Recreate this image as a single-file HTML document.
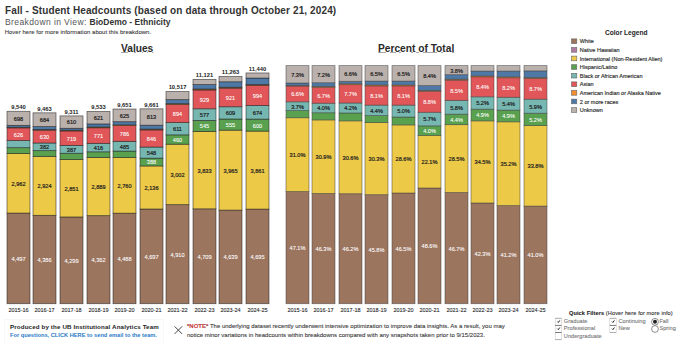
<!DOCTYPE html>
<html><head><meta charset="utf-8">
<style>
html,body{margin:0;padding:0;background:#fff;width:680px;height:345px;overflow:hidden;position:relative;font-family:"Liberation Sans",sans-serif;}
.a{position:absolute;white-space:nowrap;}
.bar{position:absolute;width:23.0px;box-sizing:border-box;}
.seg{position:absolute;left:0;right:0;box-shadow:inset 0 0 0 0.6px rgba(0,0,0,0.55);}
.lab{font-size:5.6px;text-anchor:middle;}
.tot{font-size:5.8px;text-anchor:middle;fill:#222;font-weight:bold;}
.yr{font-size:5.5px;text-anchor:middle;fill:#2a2a2a;stroke:#2a2a2a;stroke-width:0.1px;}
.sw{position:absolute;left:571.2px;width:5.8px;height:5.4px;box-sizing:border-box;border:0.5px solid #777;}
.lt{position:absolute;left:579.8px;height:9px;line-height:9px;font-size:5.5px;color:#2a2a2a;white-space:nowrap;-webkit-text-stroke:0.15px #2a2a2a;}
.cb{position:absolute;width:6.6px;height:7.2px;box-sizing:border-box;border:0.5px solid #c8c8c8;border-top:0.7px solid #555;border-bottom:0.7px solid #555;background:#fff;}
.rb{position:absolute;width:6.8px;height:6.8px;box-sizing:border-box;border:0.6px solid #777;border-radius:50%;background:#fff;}
.fl{position:absolute;font-size:5.6px;line-height:9px;color:#7a7a7a;white-space:nowrap;letter-spacing:0.05px;-webkit-text-stroke:0.12px #7a7a7a;}
</style></head><body>
<div class="a" style="left:5px;top:3.5px;font-size:10px;line-height:14px;font-weight:bold;color:#333"><span id="t1" style="letter-spacing:0.12px">Fall - Student Headcounts (based on data through October 21, 2024)</span></div>
<div class="a" style="left:5px;top:17px;font-size:8.5px;line-height:11px;color:#555"><span id="t2"><span style="letter-spacing:0.4px">Breakdown in View: </span><b style="color:#333;letter-spacing:0.02px">BioDemo - Ethnicity</b></span></div>
<div class="a" style="left:4.7px;top:28.5px;font-size:5.9px;line-height:7px;color:#3a3a3a;-webkit-text-stroke:0.1px #3a3a3a"><span id="t3" style="letter-spacing:0.07px">Hover here for more information about this breakdown.</span></div>
<div class="a" style="left:121px;top:41.5px;font-size:10.2px;line-height:13px;font-weight:bold;color:#2a2a2a;text-decoration:underline;text-decoration-color:#aaa;text-decoration-thickness:0.8px;text-underline-offset:0px"><span id="t4">Values</span></div>
<div class="a" style="left:378px;top:41.5px;font-size:10.2px;line-height:13px;font-weight:bold;color:#2a2a2a;text-decoration:underline;text-decoration-color:#aaa;text-decoration-thickness:0.8px;text-underline-offset:0px"><span id="t5">Percent of Total</span></div>
<svg class="a" style="left:0;top:0" width="680" height="345" viewBox="0 0 680 345"><rect x="7.00" y="213.07" width="23.0" height="90.63" fill="#9c755f" stroke="rgba(30,30,30,0.65)" stroke-width="0.8"/><rect x="7.00" y="153.42" width="23.0" height="59.65" fill="#edc948" stroke="rgba(30,30,30,0.65)" stroke-width="0.8"/><rect x="7.00" y="147.65" width="23.0" height="5.77" fill="#59a14f" stroke="rgba(30,30,30,0.65)" stroke-width="0.8"/><rect x="7.00" y="140.53" width="23.0" height="7.12" fill="#76b7b2" stroke="rgba(30,30,30,0.65)" stroke-width="0.8"/><rect x="7.00" y="127.83" width="23.0" height="12.70" fill="#e15759" stroke="rgba(30,30,30,0.65)" stroke-width="0.8"/><rect x="7.00" y="127.25" width="23.0" height="0.58" fill="#f28e2b" stroke="rgba(30,30,30,0.65)" stroke-width="0.8"/><rect x="7.00" y="125.32" width="23.0" height="1.92" fill="#4e79a7" stroke="rgba(30,30,30,0.65)" stroke-width="0.8"/><rect x="7.00" y="111.28" width="23.0" height="14.05" fill="#bab0ac" stroke="rgba(30,30,30,0.65)" stroke-width="0.8"/><text x="18.50" y="260.78" fill="#fff" stroke="#fff" stroke-width="0.08" class="lab">4,497</text><text x="18.50" y="185.64" fill="#1e1e1e" stroke="#1e1e1e" stroke-width="0.2" class="lab">2,962</text><text x="18.50" y="136.58" fill="#fff" stroke="#fff" stroke-width="0.08" class="lab">626</text><text x="18.50" y="120.70" fill="#1e1e1e" stroke="#1e1e1e" stroke-width="0.2" class="lab">698</text>
<text x="18.50" y="109.08" class="tot">9,540</text>
<text x="18.50" y="311.9" class="yr">2015-16</text>
<rect x="286.00" y="191.55" width="23.0" height="112.15" fill="#9c755f" stroke="rgba(60,60,60,0.6)" stroke-width="0.8"/><rect x="286.00" y="117.74" width="23.0" height="73.81" fill="#edc948" stroke="rgba(60,60,60,0.6)" stroke-width="0.8"/><rect x="286.00" y="110.60" width="23.0" height="7.14" fill="#59a14f" stroke="rgba(60,60,60,0.6)" stroke-width="0.8"/><rect x="286.00" y="101.79" width="23.0" height="8.81" fill="#76b7b2" stroke="rgba(60,60,60,0.6)" stroke-width="0.8"/><rect x="286.00" y="86.08" width="23.0" height="15.71" fill="#e15759" stroke="rgba(60,60,60,0.6)" stroke-width="0.8"/><rect x="286.00" y="85.36" width="23.0" height="0.71" fill="#f28e2b" stroke="rgba(60,60,60,0.6)" stroke-width="0.8"/><rect x="286.00" y="82.98" width="23.0" height="2.38" fill="#4e79a7" stroke="rgba(60,60,60,0.6)" stroke-width="0.8"/><rect x="286.00" y="65.60" width="23.0" height="17.38" fill="#bab0ac" stroke="rgba(60,60,60,0.6)" stroke-width="0.8"/><text x="297.50" y="250.03" fill="#fff" stroke="#fff" stroke-width="0.08" class="lab">47.1%</text><text x="297.50" y="157.05" fill="#1e1e1e" stroke="#1e1e1e" stroke-width="0.2" class="lab">31.0%</text><text x="297.50" y="108.60" fill="#1e1e1e" stroke="#1e1e1e" stroke-width="0.2" class="lab">3.7%</text><text x="297.50" y="96.33" fill="#fff" stroke="#fff" stroke-width="0.08" class="lab">6.6%</text><text x="297.50" y="76.69" fill="#1e1e1e" stroke="#1e1e1e" stroke-width="0.2" class="lab">7.3%</text>
<text x="297.50" y="311.9" class="yr">2015-16</text>
<rect x="33.00" y="215.33" width="23.0" height="88.37" fill="#9c755f" stroke="rgba(30,30,30,0.65)" stroke-width="0.8"/><rect x="33.00" y="156.35" width="23.0" height="58.98" fill="#edc948" stroke="rgba(30,30,30,0.65)" stroke-width="0.8"/><rect x="33.00" y="150.62" width="23.0" height="5.73" fill="#59a14f" stroke="rgba(30,30,30,0.65)" stroke-width="0.8"/><rect x="33.00" y="142.99" width="23.0" height="7.63" fill="#76b7b2" stroke="rgba(30,30,30,0.65)" stroke-width="0.8"/><rect x="33.00" y="130.20" width="23.0" height="12.79" fill="#e15759" stroke="rgba(30,30,30,0.65)" stroke-width="0.8"/><rect x="33.00" y="129.44" width="23.0" height="0.76" fill="#f28e2b" stroke="rgba(30,30,30,0.65)" stroke-width="0.8"/><rect x="33.00" y="126.57" width="23.0" height="2.86" fill="#4e79a7" stroke="rgba(30,30,30,0.65)" stroke-width="0.8"/><rect x="33.00" y="112.83" width="23.0" height="13.74" fill="#bab0ac" stroke="rgba(30,30,30,0.65)" stroke-width="0.8"/><text x="44.50" y="261.91" fill="#fff" stroke="#fff" stroke-width="0.08" class="lab">4,386</text><text x="44.50" y="188.24" fill="#1e1e1e" stroke="#1e1e1e" stroke-width="0.2" class="lab">2,924</text><text x="44.50" y="149.21" fill="#1e1e1e" stroke="#1e1e1e" stroke-width="0.2" class="lab">382</text><text x="44.50" y="138.99" fill="#fff" stroke="#fff" stroke-width="0.08" class="lab">630</text><text x="44.50" y="122.10" fill="#1e1e1e" stroke="#1e1e1e" stroke-width="0.2" class="lab">684</text>
<text x="44.50" y="110.63" class="tot">9,463</text>
<text x="44.50" y="311.9" class="yr">2016-17</text>
<rect x="312.00" y="193.46" width="23.0" height="110.24" fill="#9c755f" stroke="rgba(60,60,60,0.6)" stroke-width="0.8"/><rect x="312.00" y="119.89" width="23.0" height="73.57" fill="#edc948" stroke="rgba(60,60,60,0.6)" stroke-width="0.8"/><rect x="312.00" y="112.74" width="23.0" height="7.14" fill="#59a14f" stroke="rgba(60,60,60,0.6)" stroke-width="0.8"/><rect x="312.00" y="103.22" width="23.0" height="9.52" fill="#76b7b2" stroke="rgba(60,60,60,0.6)" stroke-width="0.8"/><rect x="312.00" y="87.27" width="23.0" height="15.95" fill="#e15759" stroke="rgba(60,60,60,0.6)" stroke-width="0.8"/><rect x="312.00" y="86.31" width="23.0" height="0.95" fill="#f28e2b" stroke="rgba(60,60,60,0.6)" stroke-width="0.8"/><rect x="312.00" y="82.74" width="23.0" height="3.57" fill="#4e79a7" stroke="rgba(60,60,60,0.6)" stroke-width="0.8"/><rect x="312.00" y="65.60" width="23.0" height="17.14" fill="#bab0ac" stroke="rgba(60,60,60,0.6)" stroke-width="0.8"/><text x="323.50" y="250.98" fill="#fff" stroke="#fff" stroke-width="0.08" class="lab">46.3%</text><text x="323.50" y="159.07" fill="#1e1e1e" stroke="#1e1e1e" stroke-width="0.2" class="lab">30.9%</text><text x="323.50" y="110.38" fill="#1e1e1e" stroke="#1e1e1e" stroke-width="0.2" class="lab">4.0%</text><text x="323.50" y="97.64" fill="#fff" stroke="#fff" stroke-width="0.08" class="lab">6.7%</text><text x="323.50" y="76.57" fill="#1e1e1e" stroke="#1e1e1e" stroke-width="0.2" class="lab">7.2%</text>
<text x="323.50" y="311.9" class="yr">2016-17</text>
<rect x="60.00" y="216.94" width="23.0" height="86.76" fill="#9c755f" stroke="rgba(30,30,30,0.65)" stroke-width="0.8"/><rect x="60.00" y="159.47" width="23.0" height="57.47" fill="#edc948" stroke="rgba(30,30,30,0.65)" stroke-width="0.8"/><rect x="60.00" y="153.27" width="23.0" height="6.20" fill="#59a14f" stroke="rgba(30,30,30,0.65)" stroke-width="0.8"/><rect x="60.00" y="145.38" width="23.0" height="7.89" fill="#76b7b2" stroke="rgba(30,30,30,0.65)" stroke-width="0.8"/><rect x="60.00" y="130.92" width="23.0" height="14.46" fill="#e15759" stroke="rgba(30,30,30,0.65)" stroke-width="0.8"/><rect x="60.00" y="130.17" width="23.0" height="0.75" fill="#f28e2b" stroke="rgba(30,30,30,0.65)" stroke-width="0.8"/><rect x="60.00" y="128.29" width="23.0" height="1.88" fill="#4e79a7" stroke="rgba(30,30,30,0.65)" stroke-width="0.8"/><rect x="60.00" y="115.90" width="23.0" height="12.39" fill="#bab0ac" stroke="rgba(30,30,30,0.65)" stroke-width="0.8"/><text x="71.50" y="262.72" fill="#fff" stroke="#fff" stroke-width="0.08" class="lab">4,299</text><text x="71.50" y="190.60" fill="#1e1e1e" stroke="#1e1e1e" stroke-width="0.2" class="lab">2,851</text><text x="71.50" y="151.73" fill="#1e1e1e" stroke="#1e1e1e" stroke-width="0.2" class="lab">387</text><text x="71.50" y="140.55" fill="#fff" stroke="#fff" stroke-width="0.08" class="lab">719</text><text x="71.50" y="124.49" fill="#1e1e1e" stroke="#1e1e1e" stroke-width="0.2" class="lab">610</text>
<text x="71.50" y="113.70" class="tot">9,311</text>
<text x="71.50" y="311.9" class="yr">2017-18</text>
<rect x="339.00" y="193.70" width="23.0" height="110.00" fill="#9c755f" stroke="rgba(60,60,60,0.6)" stroke-width="0.8"/><rect x="339.00" y="120.84" width="23.0" height="72.86" fill="#edc948" stroke="rgba(60,60,60,0.6)" stroke-width="0.8"/><rect x="339.00" y="112.98" width="23.0" height="7.86" fill="#59a14f" stroke="rgba(60,60,60,0.6)" stroke-width="0.8"/><rect x="339.00" y="102.98" width="23.0" height="10.00" fill="#76b7b2" stroke="rgba(60,60,60,0.6)" stroke-width="0.8"/><rect x="339.00" y="84.65" width="23.0" height="18.33" fill="#e15759" stroke="rgba(60,60,60,0.6)" stroke-width="0.8"/><rect x="339.00" y="83.70" width="23.0" height="0.95" fill="#f28e2b" stroke="rgba(60,60,60,0.6)" stroke-width="0.8"/><rect x="339.00" y="81.31" width="23.0" height="2.38" fill="#4e79a7" stroke="rgba(60,60,60,0.6)" stroke-width="0.8"/><rect x="339.00" y="65.60" width="23.0" height="15.71" fill="#bab0ac" stroke="rgba(60,60,60,0.6)" stroke-width="0.8"/><text x="350.50" y="251.10" fill="#fff" stroke="#fff" stroke-width="0.08" class="lab">46.2%</text><text x="350.50" y="159.67" fill="#1e1e1e" stroke="#1e1e1e" stroke-width="0.2" class="lab">30.6%</text><text x="350.50" y="110.38" fill="#1e1e1e" stroke="#1e1e1e" stroke-width="0.2" class="lab">4.2%</text><text x="350.50" y="96.21" fill="#fff" stroke="#fff" stroke-width="0.08" class="lab">7.7%</text><text x="350.50" y="75.86" fill="#1e1e1e" stroke="#1e1e1e" stroke-width="0.2" class="lab">6.6%</text>
<text x="350.50" y="311.9" class="yr">2017-18</text>
<rect x="87.00" y="215.64" width="23.0" height="88.06" fill="#9c755f" stroke="rgba(30,30,30,0.65)" stroke-width="0.8"/><rect x="87.00" y="157.37" width="23.0" height="58.26" fill="#edc948" stroke="rgba(30,30,30,0.65)" stroke-width="0.8"/><rect x="87.00" y="151.80" width="23.0" height="5.58" fill="#59a14f" stroke="rgba(30,30,30,0.65)" stroke-width="0.8"/><rect x="87.00" y="143.34" width="23.0" height="8.46" fill="#76b7b2" stroke="rgba(30,30,30,0.65)" stroke-width="0.8"/><rect x="87.00" y="127.76" width="23.0" height="15.57" fill="#e15759" stroke="rgba(30,30,30,0.65)" stroke-width="0.8"/><rect x="87.00" y="126.99" width="23.0" height="0.77" fill="#f28e2b" stroke="rgba(30,30,30,0.65)" stroke-width="0.8"/><rect x="87.00" y="123.92" width="23.0" height="3.08" fill="#4e79a7" stroke="rgba(30,30,30,0.65)" stroke-width="0.8"/><rect x="87.00" y="111.42" width="23.0" height="12.50" fill="#bab0ac" stroke="rgba(30,30,30,0.65)" stroke-width="0.8"/><text x="98.50" y="262.07" fill="#fff" stroke="#fff" stroke-width="0.08" class="lab">4,362</text><text x="98.50" y="188.90" fill="#1e1e1e" stroke="#1e1e1e" stroke-width="0.2" class="lab">2,889</text><text x="98.50" y="149.97" fill="#1e1e1e" stroke="#1e1e1e" stroke-width="0.2" class="lab">416</text><text x="98.50" y="137.95" fill="#fff" stroke="#fff" stroke-width="0.08" class="lab">771</text><text x="98.50" y="120.07" fill="#1e1e1e" stroke="#1e1e1e" stroke-width="0.2" class="lab">621</text>
<text x="98.50" y="109.22" class="tot">9,533</text>
<text x="98.50" y="311.9" class="yr">2018-19</text>
<rect x="365.00" y="194.65" width="23.0" height="109.05" fill="#9c755f" stroke="rgba(60,60,60,0.6)" stroke-width="0.8"/><rect x="365.00" y="122.51" width="23.0" height="72.14" fill="#edc948" stroke="rgba(60,60,60,0.6)" stroke-width="0.8"/><rect x="365.00" y="115.60" width="23.0" height="6.90" fill="#59a14f" stroke="rgba(60,60,60,0.6)" stroke-width="0.8"/><rect x="365.00" y="105.12" width="23.0" height="10.48" fill="#76b7b2" stroke="rgba(60,60,60,0.6)" stroke-width="0.8"/><rect x="365.00" y="85.84" width="23.0" height="19.29" fill="#e15759" stroke="rgba(60,60,60,0.6)" stroke-width="0.8"/><rect x="365.00" y="84.89" width="23.0" height="0.95" fill="#f28e2b" stroke="rgba(60,60,60,0.6)" stroke-width="0.8"/><rect x="365.00" y="81.08" width="23.0" height="3.81" fill="#4e79a7" stroke="rgba(60,60,60,0.6)" stroke-width="0.8"/><rect x="365.00" y="65.60" width="23.0" height="15.48" fill="#bab0ac" stroke="rgba(60,60,60,0.6)" stroke-width="0.8"/><text x="376.50" y="251.58" fill="#fff" stroke="#fff" stroke-width="0.08" class="lab">45.8%</text><text x="376.50" y="160.98" fill="#1e1e1e" stroke="#1e1e1e" stroke-width="0.2" class="lab">30.3%</text><text x="376.50" y="112.76" fill="#1e1e1e" stroke="#1e1e1e" stroke-width="0.2" class="lab">4.4%</text><text x="376.50" y="97.88" fill="#fff" stroke="#fff" stroke-width="0.08" class="lab">8.1%</text><text x="376.50" y="75.74" fill="#1e1e1e" stroke="#1e1e1e" stroke-width="0.2" class="lab">6.5%</text>
<text x="376.50" y="311.9" class="yr">2018-19</text>
<rect x="113.00" y="213.18" width="23.0" height="90.52" fill="#9c755f" stroke="rgba(30,30,30,0.65)" stroke-width="0.8"/><rect x="113.00" y="157.51" width="23.0" height="55.67" fill="#edc948" stroke="rgba(30,30,30,0.65)" stroke-width="0.8"/><rect x="113.00" y="151.09" width="23.0" height="6.42" fill="#59a14f" stroke="rgba(30,30,30,0.65)" stroke-width="0.8"/><rect x="113.00" y="141.35" width="23.0" height="9.73" fill="#76b7b2" stroke="rgba(30,30,30,0.65)" stroke-width="0.8"/><rect x="113.00" y="125.59" width="23.0" height="15.77" fill="#e15759" stroke="rgba(30,30,30,0.65)" stroke-width="0.8"/><rect x="113.00" y="124.81" width="23.0" height="0.78" fill="#f28e2b" stroke="rgba(30,30,30,0.65)" stroke-width="0.8"/><rect x="113.00" y="121.69" width="23.0" height="3.11" fill="#4e79a7" stroke="rgba(30,30,30,0.65)" stroke-width="0.8"/><rect x="113.00" y="109.04" width="23.0" height="12.65" fill="#bab0ac" stroke="rgba(30,30,30,0.65)" stroke-width="0.8"/><text x="124.50" y="260.84" fill="#fff" stroke="#fff" stroke-width="0.08" class="lab">4,488</text><text x="124.50" y="187.75" fill="#1e1e1e" stroke="#1e1e1e" stroke-width="0.2" class="lab">2,760</text><text x="124.50" y="148.62" fill="#1e1e1e" stroke="#1e1e1e" stroke-width="0.2" class="lab">485</text><text x="124.50" y="135.87" fill="#fff" stroke="#fff" stroke-width="0.08" class="lab">786</text><text x="124.50" y="117.77" fill="#1e1e1e" stroke="#1e1e1e" stroke-width="0.2" class="lab">625</text>
<text x="124.50" y="106.84" class="tot">9,651</text>
<text x="124.50" y="311.9" class="yr">2019-20</text>
<rect x="392.00" y="192.98" width="23.0" height="110.72" fill="#9c755f" stroke="rgba(60,60,60,0.6)" stroke-width="0.8"/><rect x="392.00" y="124.89" width="23.0" height="68.10" fill="#edc948" stroke="rgba(60,60,60,0.6)" stroke-width="0.8"/><rect x="392.00" y="117.03" width="23.0" height="7.86" fill="#59a14f" stroke="rgba(60,60,60,0.6)" stroke-width="0.8"/><rect x="392.00" y="105.12" width="23.0" height="11.91" fill="#76b7b2" stroke="rgba(60,60,60,0.6)" stroke-width="0.8"/><rect x="392.00" y="85.84" width="23.0" height="19.29" fill="#e15759" stroke="rgba(60,60,60,0.6)" stroke-width="0.8"/><rect x="392.00" y="84.89" width="23.0" height="0.95" fill="#f28e2b" stroke="rgba(60,60,60,0.6)" stroke-width="0.8"/><rect x="392.00" y="81.08" width="23.0" height="3.81" fill="#4e79a7" stroke="rgba(60,60,60,0.6)" stroke-width="0.8"/><rect x="392.00" y="65.60" width="23.0" height="15.48" fill="#bab0ac" stroke="rgba(60,60,60,0.6)" stroke-width="0.8"/><text x="403.50" y="250.74" fill="#fff" stroke="#fff" stroke-width="0.08" class="lab">46.5%</text><text x="403.50" y="161.34" fill="#1e1e1e" stroke="#1e1e1e" stroke-width="0.2" class="lab">28.6%</text><text x="403.50" y="113.48" fill="#1e1e1e" stroke="#1e1e1e" stroke-width="0.2" class="lab">5.0%</text><text x="403.50" y="97.88" fill="#fff" stroke="#fff" stroke-width="0.08" class="lab">8.1%</text><text x="403.50" y="75.74" fill="#1e1e1e" stroke="#1e1e1e" stroke-width="0.2" class="lab">6.5%</text>
<text x="403.50" y="311.9" class="yr">2019-20</text>
<rect x="140.00" y="209.00" width="23.0" height="94.70" fill="#9c755f" stroke="rgba(30,30,30,0.65)" stroke-width="0.8"/><rect x="140.00" y="165.93" width="23.0" height="43.06" fill="#edc948" stroke="rgba(30,30,30,0.65)" stroke-width="0.8"/><rect x="140.00" y="158.14" width="23.0" height="7.79" fill="#59a14f" stroke="rgba(30,30,30,0.65)" stroke-width="0.8"/><rect x="140.00" y="147.03" width="23.0" height="11.11" fill="#76b7b2" stroke="rgba(30,30,30,0.65)" stroke-width="0.8"/><rect x="140.00" y="129.88" width="23.0" height="17.15" fill="#e15759" stroke="rgba(30,30,30,0.65)" stroke-width="0.8"/><rect x="140.00" y="129.10" width="23.0" height="0.78" fill="#f28e2b" stroke="rgba(30,30,30,0.65)" stroke-width="0.8"/><rect x="140.00" y="125.21" width="23.0" height="3.90" fill="#4e79a7" stroke="rgba(30,30,30,0.65)" stroke-width="0.8"/><rect x="140.00" y="108.84" width="23.0" height="16.37" fill="#bab0ac" stroke="rgba(30,30,30,0.65)" stroke-width="0.8"/><text x="151.50" y="258.75" fill="#fff" stroke="#fff" stroke-width="0.08" class="lab">4,697</text><text x="151.50" y="189.86" fill="#1e1e1e" stroke="#1e1e1e" stroke-width="0.2" class="lab">2,136</text><text x="151.50" y="164.44" fill="#fff" stroke="#fff" stroke-width="0.08" class="lab">388</text><text x="151.50" y="154.98" fill="#1e1e1e" stroke="#1e1e1e" stroke-width="0.2" class="lab">548</text><text x="151.50" y="140.86" fill="#fff" stroke="#fff" stroke-width="0.08" class="lab">846</text><text x="151.50" y="119.42" fill="#1e1e1e" stroke="#1e1e1e" stroke-width="0.2" class="lab">813</text>
<text x="151.50" y="106.64" class="tot">9,661</text>
<text x="151.50" y="311.9" class="yr">2020-21</text>
<rect x="418.00" y="187.98" width="23.0" height="115.72" fill="#9c755f" stroke="rgba(60,60,60,0.6)" stroke-width="0.8"/><rect x="418.00" y="135.36" width="23.0" height="52.62" fill="#edc948" stroke="rgba(60,60,60,0.6)" stroke-width="0.8"/><rect x="418.00" y="125.84" width="23.0" height="9.52" fill="#59a14f" stroke="rgba(60,60,60,0.6)" stroke-width="0.8"/><rect x="418.00" y="112.27" width="23.0" height="13.57" fill="#76b7b2" stroke="rgba(60,60,60,0.6)" stroke-width="0.8"/><rect x="418.00" y="91.31" width="23.0" height="20.95" fill="#e15759" stroke="rgba(60,60,60,0.6)" stroke-width="0.8"/><rect x="418.00" y="90.36" width="23.0" height="0.95" fill="#f28e2b" stroke="rgba(60,60,60,0.6)" stroke-width="0.8"/><rect x="418.00" y="85.60" width="23.0" height="4.76" fill="#4e79a7" stroke="rgba(60,60,60,0.6)" stroke-width="0.8"/><rect x="418.00" y="65.60" width="23.0" height="20.00" fill="#bab0ac" stroke="rgba(60,60,60,0.6)" stroke-width="0.8"/><text x="429.50" y="248.24" fill="#fff" stroke="#fff" stroke-width="0.08" class="lab">48.6%</text><text x="429.50" y="164.07" fill="#1e1e1e" stroke="#1e1e1e" stroke-width="0.2" class="lab">22.1%</text><text x="429.50" y="133.00" fill="#fff" stroke="#fff" stroke-width="0.08" class="lab">4.0%</text><text x="429.50" y="121.45" fill="#1e1e1e" stroke="#1e1e1e" stroke-width="0.2" class="lab">5.7%</text><text x="429.50" y="104.19" fill="#fff" stroke="#fff" stroke-width="0.08" class="lab">8.8%</text><text x="429.50" y="78.00" fill="#1e1e1e" stroke="#1e1e1e" stroke-width="0.2" class="lab">8.4%</text>
<text x="429.50" y="311.9" class="yr">2020-21</text>
<rect x="166.00" y="204.64" width="23.0" height="99.06" fill="#9c755f" stroke="rgba(30,30,30,0.65)" stroke-width="0.8"/><rect x="166.00" y="144.18" width="23.0" height="60.46" fill="#edc948" stroke="rgba(30,30,30,0.65)" stroke-width="0.8"/><rect x="166.00" y="134.85" width="23.0" height="9.33" fill="#59a14f" stroke="rgba(30,30,30,0.65)" stroke-width="0.8"/><rect x="166.00" y="122.54" width="23.0" height="12.30" fill="#76b7b2" stroke="rgba(30,30,30,0.65)" stroke-width="0.8"/><rect x="166.00" y="104.51" width="23.0" height="18.03" fill="#e15759" stroke="rgba(30,30,30,0.65)" stroke-width="0.8"/><rect x="166.00" y="103.66" width="23.0" height="0.85" fill="#f28e2b" stroke="rgba(30,30,30,0.65)" stroke-width="0.8"/><rect x="166.00" y="99.63" width="23.0" height="4.03" fill="#4e79a7" stroke="rgba(30,30,30,0.65)" stroke-width="0.8"/><rect x="166.00" y="91.57" width="23.0" height="8.06" fill="#bab0ac" stroke="rgba(30,30,30,0.65)" stroke-width="0.8"/><text x="177.50" y="256.57" fill="#fff" stroke="#fff" stroke-width="0.08" class="lab">4,910</text><text x="177.50" y="176.81" fill="#1e1e1e" stroke="#1e1e1e" stroke-width="0.2" class="lab">3,002</text><text x="177.50" y="141.91" fill="#fff" stroke="#fff" stroke-width="0.08" class="lab">460</text><text x="177.50" y="131.09" fill="#1e1e1e" stroke="#1e1e1e" stroke-width="0.2" class="lab">611</text><text x="177.50" y="115.93" fill="#fff" stroke="#fff" stroke-width="0.08" class="lab">894</text>
<text x="177.50" y="89.37" class="tot">10,517</text>
<text x="177.50" y="311.9" class="yr">2021-22</text>
<rect x="445.00" y="192.51" width="23.0" height="111.19" fill="#9c755f" stroke="rgba(60,60,60,0.6)" stroke-width="0.8"/><rect x="445.00" y="124.65" width="23.0" height="67.86" fill="#edc948" stroke="rgba(60,60,60,0.6)" stroke-width="0.8"/><rect x="445.00" y="114.17" width="23.0" height="10.48" fill="#59a14f" stroke="rgba(60,60,60,0.6)" stroke-width="0.8"/><rect x="445.00" y="100.36" width="23.0" height="13.81" fill="#76b7b2" stroke="rgba(60,60,60,0.6)" stroke-width="0.8"/><rect x="445.00" y="80.12" width="23.0" height="20.24" fill="#e15759" stroke="rgba(60,60,60,0.6)" stroke-width="0.8"/><rect x="445.00" y="79.17" width="23.0" height="0.95" fill="#f28e2b" stroke="rgba(60,60,60,0.6)" stroke-width="0.8"/><rect x="445.00" y="74.65" width="23.0" height="4.52" fill="#4e79a7" stroke="rgba(60,60,60,0.6)" stroke-width="0.8"/><rect x="445.00" y="65.60" width="23.0" height="9.05" fill="#bab0ac" stroke="rgba(60,60,60,0.6)" stroke-width="0.8"/><text x="456.50" y="250.50" fill="#fff" stroke="#fff" stroke-width="0.08" class="lab">46.7%</text><text x="456.50" y="160.98" fill="#1e1e1e" stroke="#1e1e1e" stroke-width="0.2" class="lab">28.5%</text><text x="456.50" y="121.81" fill="#fff" stroke="#fff" stroke-width="0.08" class="lab">4.4%</text><text x="456.50" y="109.67" fill="#1e1e1e" stroke="#1e1e1e" stroke-width="0.2" class="lab">5.8%</text><text x="456.50" y="92.64" fill="#fff" stroke="#fff" stroke-width="0.08" class="lab">8.5%</text><text x="456.50" y="72.52" fill="#1e1e1e" stroke="#1e1e1e" stroke-width="0.2" class="lab">3.8%</text>
<text x="456.50" y="311.9" class="yr">2021-22</text>
<rect x="193.00" y="208.82" width="23.0" height="94.88" fill="#9c755f" stroke="rgba(30,30,30,0.65)" stroke-width="0.8"/><rect x="193.00" y="131.43" width="23.0" height="77.39" fill="#edc948" stroke="rgba(30,30,30,0.65)" stroke-width="0.8"/><rect x="193.00" y="120.44" width="23.0" height="10.99" fill="#59a14f" stroke="rgba(30,30,30,0.65)" stroke-width="0.8"/><rect x="193.00" y="108.77" width="23.0" height="11.66" fill="#76b7b2" stroke="rgba(30,30,30,0.65)" stroke-width="0.8"/><rect x="193.00" y="89.93" width="23.0" height="18.84" fill="#e15759" stroke="rgba(30,30,30,0.65)" stroke-width="0.8"/><rect x="193.00" y="89.03" width="23.0" height="0.90" fill="#f28e2b" stroke="rgba(30,30,30,0.65)" stroke-width="0.8"/><rect x="193.00" y="84.55" width="23.0" height="4.49" fill="#4e79a7" stroke="rgba(30,30,30,0.65)" stroke-width="0.8"/><rect x="193.00" y="79.39" width="23.0" height="5.16" fill="#bab0ac" stroke="rgba(30,30,30,0.65)" stroke-width="0.8"/><text x="204.50" y="258.66" fill="#fff" stroke="#fff" stroke-width="0.08" class="lab">4,709</text><text x="204.50" y="172.52" fill="#1e1e1e" stroke="#1e1e1e" stroke-width="0.2" class="lab">3,833</text><text x="204.50" y="128.33" fill="#fff" stroke="#fff" stroke-width="0.08" class="lab">545</text><text x="204.50" y="117.01" fill="#1e1e1e" stroke="#1e1e1e" stroke-width="0.2" class="lab">577</text><text x="204.50" y="101.75" fill="#fff" stroke="#fff" stroke-width="0.08" class="lab">929</text>
<text x="204.50" y="77.19" class="tot">11,121</text>
<text x="204.50" y="311.9" class="yr">2022-23</text>
<rect x="471.00" y="202.98" width="23.0" height="100.72" fill="#9c755f" stroke="rgba(60,60,60,0.6)" stroke-width="0.8"/><rect x="471.00" y="120.84" width="23.0" height="82.14" fill="#edc948" stroke="rgba(60,60,60,0.6)" stroke-width="0.8"/><rect x="471.00" y="109.17" width="23.0" height="11.67" fill="#59a14f" stroke="rgba(60,60,60,0.6)" stroke-width="0.8"/><rect x="471.00" y="96.79" width="23.0" height="12.38" fill="#76b7b2" stroke="rgba(60,60,60,0.6)" stroke-width="0.8"/><rect x="471.00" y="76.79" width="23.0" height="20.00" fill="#e15759" stroke="rgba(60,60,60,0.6)" stroke-width="0.8"/><rect x="471.00" y="75.84" width="23.0" height="0.95" fill="#f28e2b" stroke="rgba(60,60,60,0.6)" stroke-width="0.8"/><rect x="471.00" y="71.08" width="23.0" height="4.76" fill="#4e79a7" stroke="rgba(60,60,60,0.6)" stroke-width="0.8"/><rect x="471.00" y="65.60" width="23.0" height="5.48" fill="#bab0ac" stroke="rgba(60,60,60,0.6)" stroke-width="0.8"/><text x="482.50" y="255.74" fill="#fff" stroke="#fff" stroke-width="0.08" class="lab">42.3%</text><text x="482.50" y="164.31" fill="#1e1e1e" stroke="#1e1e1e" stroke-width="0.2" class="lab">34.5%</text><text x="482.50" y="117.41" fill="#fff" stroke="#fff" stroke-width="0.08" class="lab">4.9%</text><text x="482.50" y="105.38" fill="#1e1e1e" stroke="#1e1e1e" stroke-width="0.2" class="lab">5.2%</text><text x="482.50" y="89.19" fill="#fff" stroke="#fff" stroke-width="0.08" class="lab">8.4%</text>
<text x="482.50" y="311.9" class="yr">2022-23</text>
<rect x="219.00" y="210.10" width="23.0" height="93.60" fill="#9c755f" stroke="rgba(30,30,30,0.65)" stroke-width="0.8"/><rect x="219.00" y="130.14" width="23.0" height="79.97" fill="#edc948" stroke="rgba(30,30,30,0.65)" stroke-width="0.8"/><rect x="219.00" y="119.01" width="23.0" height="11.13" fill="#59a14f" stroke="rgba(30,30,30,0.65)" stroke-width="0.8"/><rect x="219.00" y="106.74" width="23.0" height="12.27" fill="#76b7b2" stroke="rgba(30,30,30,0.65)" stroke-width="0.8"/><rect x="219.00" y="88.11" width="23.0" height="18.63" fill="#e15759" stroke="rgba(30,30,30,0.65)" stroke-width="0.8"/><rect x="219.00" y="87.20" width="23.0" height="0.91" fill="#f28e2b" stroke="rgba(30,30,30,0.65)" stroke-width="0.8"/><rect x="219.00" y="81.75" width="23.0" height="5.45" fill="#4e79a7" stroke="rgba(30,30,30,0.65)" stroke-width="0.8"/><rect x="219.00" y="76.53" width="23.0" height="5.23" fill="#bab0ac" stroke="rgba(30,30,30,0.65)" stroke-width="0.8"/><text x="230.50" y="259.30" fill="#fff" stroke="#fff" stroke-width="0.08" class="lab">4,639</text><text x="230.50" y="172.52" fill="#1e1e1e" stroke="#1e1e1e" stroke-width="0.2" class="lab">3,965</text><text x="230.50" y="126.97" fill="#fff" stroke="#fff" stroke-width="0.08" class="lab">555</text><text x="230.50" y="115.27" fill="#1e1e1e" stroke="#1e1e1e" stroke-width="0.2" class="lab">609</text><text x="230.50" y="99.83" fill="#fff" stroke="#fff" stroke-width="0.08" class="lab">921</text>
<text x="230.50" y="74.33" class="tot">11,263</text>
<text x="230.50" y="311.9" class="yr">2023-24</text>
<rect x="497.00" y="205.60" width="23.0" height="98.10" fill="#9c755f" stroke="rgba(60,60,60,0.6)" stroke-width="0.8"/><rect x="497.00" y="121.79" width="23.0" height="83.81" fill="#edc948" stroke="rgba(60,60,60,0.6)" stroke-width="0.8"/><rect x="497.00" y="110.12" width="23.0" height="11.67" fill="#59a14f" stroke="rgba(60,60,60,0.6)" stroke-width="0.8"/><rect x="497.00" y="97.27" width="23.0" height="12.86" fill="#76b7b2" stroke="rgba(60,60,60,0.6)" stroke-width="0.8"/><rect x="497.00" y="77.74" width="23.0" height="19.52" fill="#e15759" stroke="rgba(60,60,60,0.6)" stroke-width="0.8"/><rect x="497.00" y="76.79" width="23.0" height="0.95" fill="#f28e2b" stroke="rgba(60,60,60,0.6)" stroke-width="0.8"/><rect x="497.00" y="71.08" width="23.0" height="5.71" fill="#4e79a7" stroke="rgba(60,60,60,0.6)" stroke-width="0.8"/><rect x="497.00" y="65.60" width="23.0" height="5.48" fill="#bab0ac" stroke="rgba(60,60,60,0.6)" stroke-width="0.8"/><text x="508.50" y="257.05" fill="#fff" stroke="#fff" stroke-width="0.08" class="lab">41.2%</text><text x="508.50" y="166.10" fill="#1e1e1e" stroke="#1e1e1e" stroke-width="0.2" class="lab">35.2%</text><text x="508.50" y="118.36" fill="#fff" stroke="#fff" stroke-width="0.08" class="lab">4.9%</text><text x="508.50" y="106.10" fill="#1e1e1e" stroke="#1e1e1e" stroke-width="0.2" class="lab">5.4%</text><text x="508.50" y="89.91" fill="#fff" stroke="#fff" stroke-width="0.08" class="lab">8.2%</text>
<text x="508.50" y="311.9" class="yr">2023-24</text>
<rect x="246.00" y="209.09" width="23.0" height="94.61" fill="#9c755f" stroke="rgba(30,30,30,0.65)" stroke-width="0.8"/><rect x="246.00" y="131.10" width="23.0" height="77.99" fill="#edc948" stroke="rgba(30,30,30,0.65)" stroke-width="0.8"/><rect x="246.00" y="119.10" width="23.0" height="12.00" fill="#59a14f" stroke="rgba(30,30,30,0.65)" stroke-width="0.8"/><rect x="246.00" y="105.49" width="23.0" height="13.61" fill="#76b7b2" stroke="rgba(30,30,30,0.65)" stroke-width="0.8"/><rect x="246.00" y="85.42" width="23.0" height="20.07" fill="#e15759" stroke="rgba(30,30,30,0.65)" stroke-width="0.8"/><rect x="246.00" y="84.49" width="23.0" height="0.92" fill="#f28e2b" stroke="rgba(30,30,30,0.65)" stroke-width="0.8"/><rect x="246.00" y="78.03" width="23.0" height="6.46" fill="#4e79a7" stroke="rgba(30,30,30,0.65)" stroke-width="0.8"/><rect x="246.00" y="72.96" width="23.0" height="5.08" fill="#bab0ac" stroke="rgba(30,30,30,0.65)" stroke-width="0.8"/><text x="257.50" y="258.80" fill="#fff" stroke="#fff" stroke-width="0.08" class="lab">4,695</text><text x="257.50" y="172.50" fill="#1e1e1e" stroke="#1e1e1e" stroke-width="0.2" class="lab">3,861</text><text x="257.50" y="127.50" fill="#fff" stroke="#fff" stroke-width="0.08" class="lab">600</text><text x="257.50" y="114.70" fill="#1e1e1e" stroke="#1e1e1e" stroke-width="0.2" class="lab">674</text><text x="257.50" y="97.85" fill="#fff" stroke="#fff" stroke-width="0.08" class="lab">994</text>
<text x="257.50" y="70.76" class="tot">11,440</text>
<text x="257.50" y="311.9" class="yr">2024-25</text>
<rect x="524.00" y="206.08" width="23.0" height="97.62" fill="#9c755f" stroke="rgba(60,60,60,0.6)" stroke-width="0.8"/><rect x="524.00" y="125.60" width="23.0" height="80.48" fill="#edc948" stroke="rgba(60,60,60,0.6)" stroke-width="0.8"/><rect x="524.00" y="113.22" width="23.0" height="12.38" fill="#59a14f" stroke="rgba(60,60,60,0.6)" stroke-width="0.8"/><rect x="524.00" y="99.17" width="23.0" height="14.05" fill="#76b7b2" stroke="rgba(60,60,60,0.6)" stroke-width="0.8"/><rect x="524.00" y="78.46" width="23.0" height="20.71" fill="#e15759" stroke="rgba(60,60,60,0.6)" stroke-width="0.8"/><rect x="524.00" y="77.51" width="23.0" height="0.95" fill="#f28e2b" stroke="rgba(60,60,60,0.6)" stroke-width="0.8"/><rect x="524.00" y="70.84" width="23.0" height="6.67" fill="#4e79a7" stroke="rgba(60,60,60,0.6)" stroke-width="0.8"/><rect x="524.00" y="65.60" width="23.0" height="5.24" fill="#bab0ac" stroke="rgba(60,60,60,0.6)" stroke-width="0.8"/><text x="535.50" y="257.29" fill="#fff" stroke="#fff" stroke-width="0.08" class="lab">41.0%</text><text x="535.50" y="168.24" fill="#1e1e1e" stroke="#1e1e1e" stroke-width="0.2" class="lab">33.8%</text><text x="535.50" y="121.81" fill="#fff" stroke="#fff" stroke-width="0.08" class="lab">5.2%</text><text x="535.50" y="108.60" fill="#1e1e1e" stroke="#1e1e1e" stroke-width="0.2" class="lab">5.9%</text><text x="535.50" y="91.21" fill="#fff" stroke="#fff" stroke-width="0.08" class="lab">8.7%</text>
<text x="535.50" y="311.9" class="yr">2024-25</text></svg>
<div class="a" style="left:605px;top:27.9px;font-size:6.6px;line-height:9px;font-weight:bold;color:#222"><span id="cl">Color Legend</span></div>
<div class="lt" style="top:37.40px"><span id="lg0">White</span></div>
<div class="lt" style="top:46.00px"><span id="lg1">Native Hawaiian</span></div>
<div class="lt" style="top:54.60px"><span id="lg2">International (Non-Resident Alien)</span></div>
<div class="lt" style="top:63.20px"><span id="lg3">Hispanic/Latino</span></div>
<div class="lt" style="top:71.80px"><span id="lg4">Black or African American</span></div>
<div class="lt" style="top:80.40px"><span id="lg5">Asian</span></div>
<div class="lt" style="top:89.00px"><span id="lg6">American Indian or Alaska Native</span></div>
<div class="lt" style="top:97.60px"><span id="lg7">2 or more races</span></div>
<div class="lt" style="top:106.20px"><span id="lg8">Unknown</span></div>
<svg class="a" style="left:0;top:0" width="680" height="345"><rect x="571.5" y="38.90" width="5.3" height="4.7" fill="#9c755f" stroke="#666" stroke-width="0.6"/><rect x="571.5" y="47.50" width="5.3" height="4.7" fill="#b07aa1" stroke="#666" stroke-width="0.6"/><rect x="571.5" y="56.10" width="5.3" height="4.7" fill="#edc948" stroke="#666" stroke-width="0.6"/><rect x="571.5" y="64.70" width="5.3" height="4.7" fill="#59a14f" stroke="#666" stroke-width="0.6"/><rect x="571.5" y="73.30" width="5.3" height="4.7" fill="#76b7b2" stroke="#666" stroke-width="0.6"/><rect x="571.5" y="81.90" width="5.3" height="4.7" fill="#e15759" stroke="#666" stroke-width="0.6"/><rect x="571.5" y="90.50" width="5.3" height="4.7" fill="#f28e2b" stroke="#666" stroke-width="0.6"/><rect x="571.5" y="99.10" width="5.3" height="4.7" fill="#4e79a7" stroke="#666" stroke-width="0.6"/><rect x="571.5" y="107.70" width="5.3" height="4.7" fill="#bab0ac" stroke="#666" stroke-width="0.6"/></svg>
<div class="a" style="left:4px;top:319px;width:160px;height:30px;border:0.5px solid #f8f8f8;box-sizing:border-box"></div>
<div class="a" style="left:10px;top:322.9px;font-size:6.2px;line-height:8px;font-weight:bold;color:#222"><span id="f1" style="letter-spacing:0.14px">Produced by the UB Institutional Analytics Team</span></div>
<div class="a" style="left:10px;top:331.1px;font-size:5.7px;line-height:8px;font-weight:bold;color:#2a7ac7"><span id="f2">For questions, CLICK HERE to send email to the team.</span></div>
<svg class="a" style="left:174px;top:326px" width="9" height="9" viewBox="0 0 9 9"><path d="M0.6 0.4L8.1 7.9M8.1 0.4L0.6 7.9" stroke="#444" stroke-width="1.0"/></svg>
<div class="a" style="left:187px;top:322.3px;font-size:6px;line-height:8.3px;color:#3a3a3a;-webkit-text-stroke:0.1px #3a3a3a"><span style="color:#e03a40;font-weight:bold">*NOTE*</span> The underlying dataset recently underwent intensive optimization to improve data insights. As a result, you may<br>notice minor variations in headcounts within breakdowns compared with any snapshots taken prior to 9/15/2023.</div>
<div class="a" style="left:569px;top:308.7px;font-size:5.6px;line-height:8px;color:#333;-webkit-text-stroke:0.12px #333"><span id="qf" style="letter-spacing:0.1px"><b style="color:#222">Quick Filters</b> (Hover here for more info)</span></div>
<div class="fl" style="left:563.8000000000001px;top:317.3px">Graduate</div>
<div class="fl" style="left:563.8000000000001px;top:324.4px">Professional</div>
<div class="fl" style="left:563.8000000000001px;top:331.5px">Undergraduate</div>
<div class="fl" style="left:618.4px;top:317.3px">Continuing</div>
<div class="fl" style="left:618.4px;top:324.4px">New</div>
<div class="fl" style="left:659.4000000000001px;top:317.2px">Fall</div>
<div class="fl" style="left:659.4000000000001px;top:324.4px">Spring</div>
<svg class="a" style="left:0;top:0" width="680" height="345"><rect x="555.2" y="318.3" width="6.4" height="7.1" fill="#fff" stroke="#c4c4c4" stroke-width="0.5"/><line x1="555.2" y1="318.3" x2="561.6" y2="318.3" stroke="#999" stroke-width="0.7"/><path d="M557.4000000000001 321.6L558.3000000000001 322.5L559.8000000000001 320.40000000000003" stroke="#222" stroke-width="1.0" fill="none"/><rect x="555.2" y="325.4" width="6.4" height="7.1" fill="#fff" stroke="#c4c4c4" stroke-width="0.5"/><line x1="555.2" y1="325.4" x2="561.6" y2="325.4" stroke="#555" stroke-width="0.7"/><path d="M557.4000000000001 328.7L558.3000000000001 329.59999999999997L559.8000000000001 327.5" stroke="#222" stroke-width="1.0" fill="none"/><rect x="555.2" y="332.5" width="6.4" height="7.1" fill="#fff" stroke="#c4c4c4" stroke-width="0.5"/><line x1="555.2" y1="332.5" x2="561.6" y2="332.5" stroke="#555" stroke-width="0.7"/><line x1="555.2" y1="339.6" x2="561.6" y2="339.6" stroke="#999" stroke-width="0.7"/><rect x="609.8" y="318.3" width="6.4" height="7.1" fill="#fff" stroke="#c4c4c4" stroke-width="0.5"/><line x1="609.8" y1="318.3" x2="616.1999999999999" y2="318.3" stroke="#999" stroke-width="0.7"/><path d="M612.0 321.6L612.9 322.5L614.4 320.40000000000003" stroke="#222" stroke-width="1.0" fill="none"/><rect x="609.8" y="325.4" width="6.4" height="7.1" fill="#fff" stroke="#c4c4c4" stroke-width="0.5"/><line x1="609.8" y1="325.4" x2="616.1999999999999" y2="325.4" stroke="#555" stroke-width="0.7"/><line x1="609.8" y1="332.5" x2="616.1999999999999" y2="332.5" stroke="#999" stroke-width="0.7"/><path d="M612.0 328.7L612.9 329.59999999999997L614.4 327.5" stroke="#222" stroke-width="1.0" fill="none"/><circle cx="655.0" cy="321.8" r="3.4" fill="#fff" stroke="#444" stroke-width="0.6"/><circle cx="655.0" cy="321.8" r="2.0" fill="#222"/><circle cx="655.0" cy="329.0" r="3.4" fill="#fff" stroke="#444" stroke-width="0.6"/></svg>
</body></html>
